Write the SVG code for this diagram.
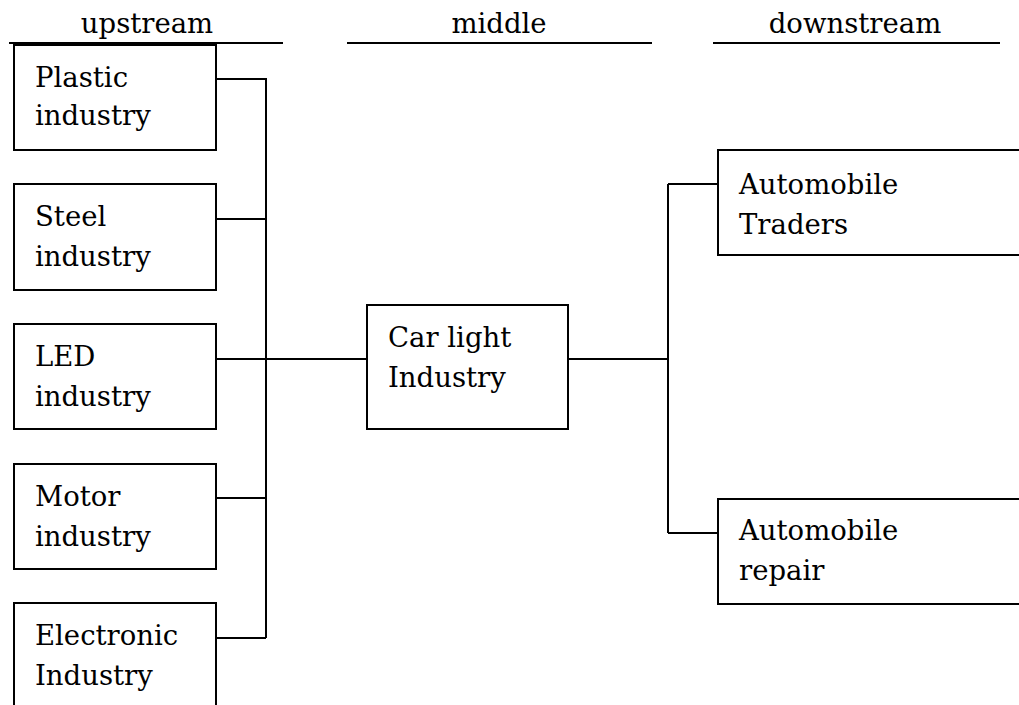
<svg xmlns="http://www.w3.org/2000/svg" width="1019" height="705" viewBox="0 0 1019 705">
<style>
.box{fill:#fff;stroke:#000;stroke-width:2}
.ln{fill:none;stroke:#000;stroke-width:2}
text{font-family:"DejaVu Serif","Liberation Serif",serif;font-size:27.5px;fill:#000}
.h{text-anchor:middle}
</style>
<rect width="1019" height="705" fill="#fff"/>
<g id="headers">
<text class="h" x="147" y="33">upstream</text>
<line class="ln" x1="9" y1="43" x2="283" y2="43"/>
<text class="h" x="499" y="33">middle</text>
<line class="ln" x1="347" y1="43" x2="652" y2="43"/>
<text class="h" x="855" y="33">downstream</text>
<line class="ln" x1="713" y1="43" x2="1000" y2="43"/>
</g>
<g id="connectors">
<path class="ln" d="M216 79H266V638M216 219H266M216 359H367M216 498H266M216 638H266"/>
<path class="ln" d="M568 359H668M668 184V533M668 184H718M668 533H718"/>
</g>
<g id="plastic"><rect class="box" x="14" y="45" width="202" height="105"/><text x="35" y="87">Plastic</text><text x="35" y="125">industry</text></g>
<g id="steel"><rect class="box" x="14" y="184" width="202" height="106"/><text x="35" y="226">Steel</text><text x="35" y="266">industry</text></g>
<g id="led"><rect class="box" x="14" y="324" width="202" height="105"/><text x="35" y="366">LED</text><text x="35" y="406">industry</text></g>
<g id="motor"><rect class="box" x="14" y="464" width="202" height="105"/><text x="35" y="506">Motor</text><text x="35" y="546">industry</text></g>
<g id="electronic"><rect class="box" x="14" y="603" width="202" height="115"/><text x="35" y="645">Electronic</text><text x="35" y="685">Industry</text></g>
<g id="carlight"><rect class="box" x="367" y="305" width="201" height="124"/><text x="388" y="347">Car light</text><text x="388" y="387">Industry</text></g>
<g id="traders"><rect class="box" x="718" y="150" width="320" height="105"/><text x="739" y="194">Automobile</text><text x="739" y="234">Traders</text></g>
<g id="repair"><rect class="box" x="718" y="499" width="320" height="105"/><text x="739" y="540">Automobile</text><text x="739" y="580">repair</text></g>
</svg>
